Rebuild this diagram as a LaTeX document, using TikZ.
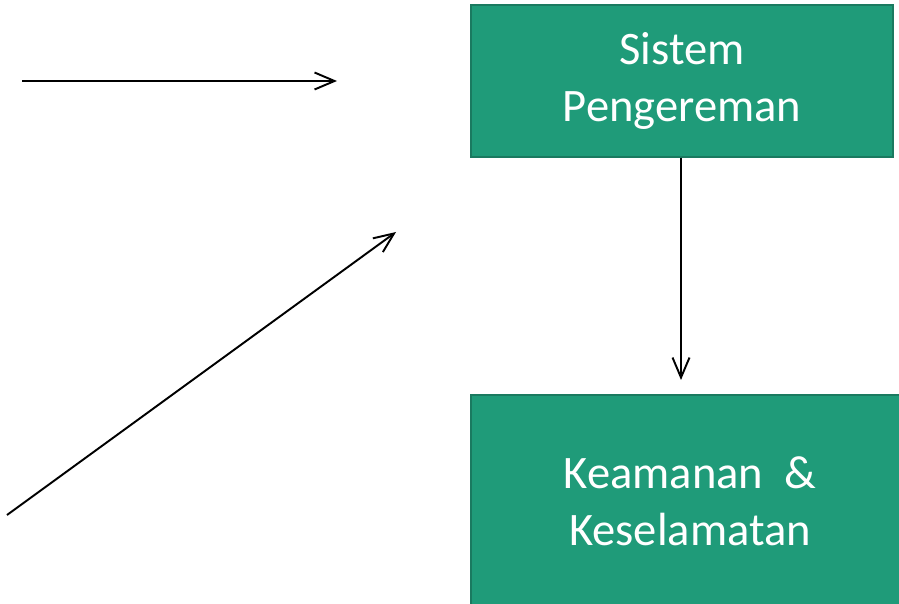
\documentclass[tikz,border=0pt]{standalone}
\usepackage{fontspec}
\setmainfont{Carlito}
\usepackage{xcolor}
\usetikzlibrary{arrows.meta}

\definecolor{boxgreen}{RGB}{31,155,121}
\definecolor{boxedge}{RGB}{26,122,96}

\tikzset{
    greenbox/.style={draw=boxedge, line width=0.8pt, fill=boxgreen, text=white,
        align=center, inner sep=0pt,
        font=\fontsize{26.5pt}{32.4pt}\selectfont},
    flow/.style={line width=1.1pt, -{Straight Barb[length=0.4cm, width=0.34cm, line width=1.1pt]}}
}

\begin{document}
\begin{tikzpicture}[x=0.02cm, y=-0.02cm]
        \useasboundingbox (0,0) rectangle (899,604);
        \clip (0,0) rectangle (899,604);

        % --- boxes ---
        \node[greenbox, minimum width=8.44cm, minimum height=3.04cm] (rem) at (682,81)
            {Sistem\\Pengereman};
        \node[greenbox, minimum width=8.76cm, minimum height=4.24cm] (aman) at (690,501)
            {Keamanan\ \ \&\\Keselamatan};

        % --- free ends ---
        \coordinate (in1s) at (22,81);
        \coordinate (in1e) at (337,81);
        \coordinate (in2s) at (7,515);
        \coordinate (in2e) at (396,232);
        \coordinate (down) at (681,380);

        % --- arrows ---
        \draw[flow] (in1s) -- (in1e);
        \draw[flow] (in2s) -- (in2e);
        \draw[flow] (rem.south -| down) -- (down);
    \end{tikzpicture}
\end{document}
